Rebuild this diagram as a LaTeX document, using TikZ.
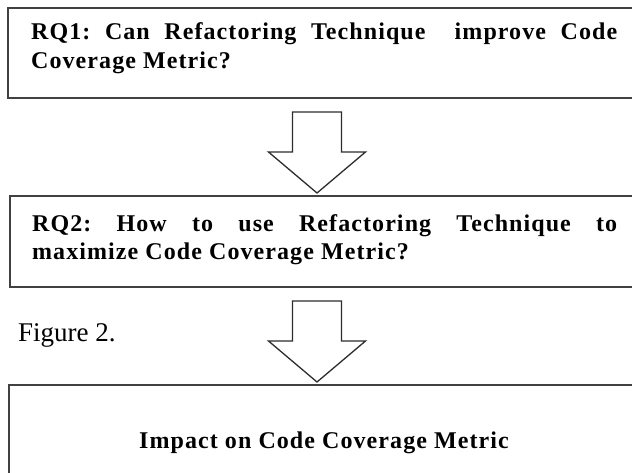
\documentclass[tikz,border=0pt]{standalone}
\usepackage{fontspec}
\setmainfont{Liberation Serif}
\newfontfamily\boxfont[LetterSpace=4.5]{Liberation Serif}
\usetikzlibrary{calc}
\definecolor{boxgray}{RGB}{65,65,65}
\definecolor{arrowgray}{RGB}{45,45,45}
\frenchspacing
\begin{document}
\begin{tikzpicture}[x=1pt,y=-1pt,
  qbox/.style={draw=boxgray, line width=2pt, outer sep=0pt, inner sep=0pt, anchor=north west, minimum width=640pt},
  qtext/.style={font=\boxfont\bfseries\fontsize{24}{29}\selectfont, inner sep=0pt, anchor=base west},
  figtext/.style={font=\fontsize{27}{30}\selectfont, inner sep=0pt, anchor=base west},
  blockarrow/.style={draw=arrowgray, line width=1.3pt, fill=white, line join=miter}]
\useasboundingbox (0,0) rectangle (632,472);
\clip (0,0) rectangle (632,472);
\fill[white] (0,0) rectangle (632,472);
% boxes
\node[qbox, minimum height=90pt] (b1) at (8,8) {};
\node[qbox, minimum height=91pt] (b2) at (10,196) {};
\node[qbox, minimum height=100pt] (b3) at (9,385) {};
% texts
\node[qtext] (t1a) at (31,39) {\makebox[586pt][s]{RQ1: Can Refactoring Technique\ \ improve Code}};
\node[qtext] (t1b) at (31,68) {Coverage Metric?};
\node[qtext] (t2a) at (32,231) {\makebox[585pt][s]{RQ2: How to use Refactoring Technique to}};
\node[qtext] (t2b) at (32,259) {maximize Code Coverage Metric?};
\node[qtext, anchor=base] (t3) at (324,448) {Impact on Code Coverage Metric};
\node[figtext] (fig) at (18,341) {Figure 2.};
% block arrows
\coordinate (a1s) at ($(b1.south west)+(309,14)$);
\coordinate (a1t) at ($(b2.north west)+(307,-3)$);
\coordinate (a2s) at ($(b2.south west)+(307,14)$);
\coordinate (a2t) at ($(b3.north west)+(308,-3)$);
\foreach \s/\t in {a1s/a1t, a2s/a2t}{
  \draw[blockarrow] let \p1=(\s), \p2=(\t) in
    (\x2-24.5pt,\y1) -- (\x2+24.5pt,\y1) -- (\x2+24.5pt,\y2+41pt) -- (\x2+48.5pt,\y2+41pt)
    -- (\x2,\y2) -- (\x2-48.5pt,\y2+41pt) -- (\x2-24.5pt,\y2+41pt) -- cycle;
}
\end{tikzpicture}
\end{document}
